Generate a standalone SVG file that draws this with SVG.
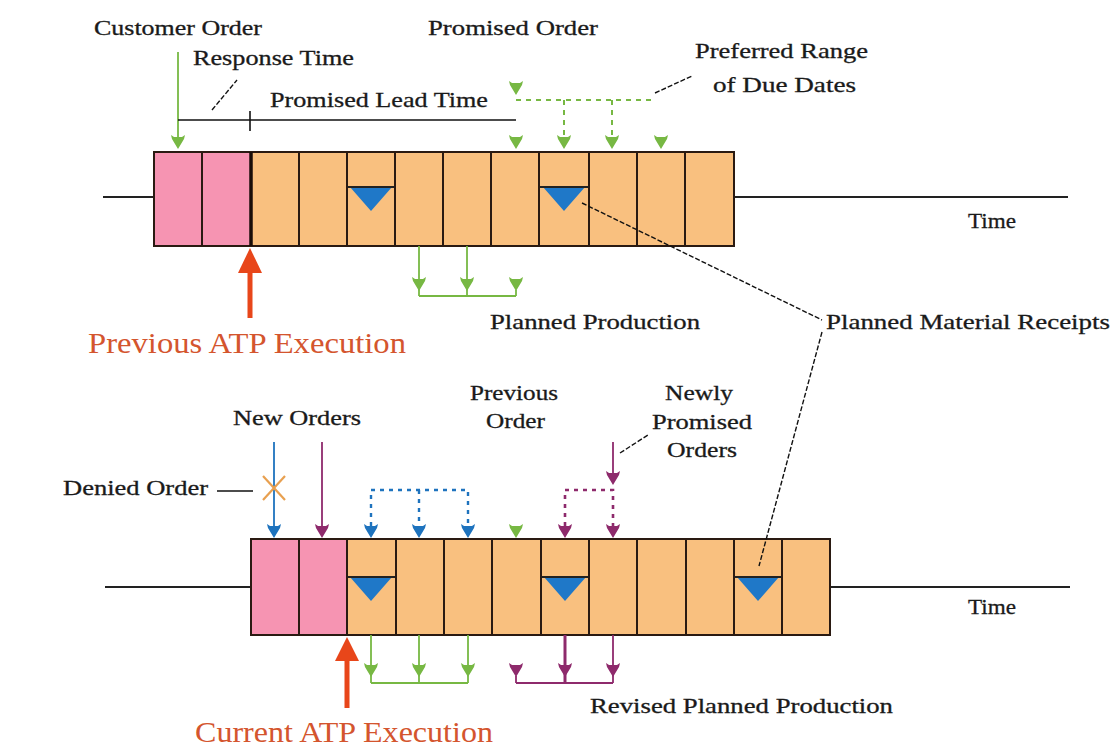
<svg xmlns="http://www.w3.org/2000/svg" xmlns:xlink="http://www.w3.org/1999/xlink" width="1120" height="752" viewBox="0 0 1120 752">
<defs>
<style>
text{font-family:"Liberation Serif","Times New Roman",serif;font-size:21px;fill:#1a1a1a;stroke:#1a1a1a;stroke-width:0.3}
.red{font-size:30px;fill:#d4552e;stroke:none}
.pink{fill:#f694b2}
.org{fill:#f9c07f}
.cell{stroke:#2a1a12;stroke-width:2;fill:none}
.axis{stroke:#222;stroke-width:2}
.tri{fill:#1f78c8}
.triTop{stroke:#222;stroke-width:2}
.blk{stroke:#111;stroke-width:1.6;fill:none}
.lead{stroke:#111;stroke-width:1.4;stroke-dasharray:5 2;fill:none}
.g{stroke:#77b843;stroke-width:1.8;fill:none}
.gd{stroke:#77b843;stroke-width:2;stroke-dasharray:5 5;fill:none}
.b{stroke:#1e73be;stroke-width:1.8;fill:none}
.bd{stroke:#1e73be;stroke-width:2.4;stroke-dasharray:4 5;fill:none}
.p{stroke:#8e2a6c;stroke-width:1.8;fill:none}
.pd{stroke:#8e2a6c;stroke-width:2.6;stroke-dasharray:4 5;fill:none}
.ra{fill:#e8461a}
</style>
<path id="ah" d="M-7,-14 L-4,-12 L4,-12 L7,-14 L6,-10 L0,0 L-6,-10 Z"/>
<path id="tri" d="M-21,0 L21,0 L0,24 Z"/>
</defs>
<rect width="1120" height="752" fill="#fff"/>

<g id="timeline-top">
<line class="axis" x1="103" y1="197" x2="154" y2="197"/>
<line class="axis" x1="734" y1="197" x2="1068" y2="197"/>
<rect class="pink" x="154" y="152" width="97" height="94"/>
<rect class="org" x="251" y="152" width="483" height="94"/>
<rect class="cell" x="154" y="152" width="580" height="94"/>
<g class="cell">
<line x1="202" y1="152" x2="202" y2="246"/>
<line x1="251" y1="152" x2="251" y2="246" style="stroke-width:3.5;stroke:#1a0d08"/>
<line x1="299" y1="152" x2="299" y2="246"/>
<line x1="347" y1="152" x2="347" y2="246"/>
<line x1="395" y1="152" x2="395" y2="246"/>
<line x1="443" y1="152" x2="443" y2="246"/>
<line x1="491" y1="152" x2="491" y2="246"/>
<line x1="539" y1="152" x2="539" y2="246"/>
<line x1="589" y1="152" x2="589" y2="246"/>
<line x1="637" y1="152" x2="637" y2="246"/>
<line x1="685" y1="152" x2="685" y2="246"/>
</g>
<use href="#tri" class="tri" x="371" y="187"/>
<line class="triTop" x1="348" y1="187" x2="394" y2="187"/>
<use href="#tri" class="tri" x="564" y="187"/>
<line class="triTop" x1="540" y1="187" x2="588" y2="187"/>
</g>

<g id="timeline-bottom">
<line class="axis" x1="105" y1="587" x2="251" y2="587"/>
<line class="axis" x1="830" y1="587" x2="1070" y2="587"/>
<rect class="pink" x="251" y="539" width="96" height="96"/>
<rect class="org" x="347" y="539" width="483" height="96"/>
<rect class="cell" x="251" y="539" width="579" height="96"/>
<g class="cell">
<line x1="299" y1="539" x2="299" y2="635"/>
<line x1="347" y1="539" x2="347" y2="635"/>
<line x1="396" y1="539" x2="396" y2="635"/>
<line x1="444" y1="539" x2="444" y2="635"/>
<line x1="492" y1="539" x2="492" y2="635"/>
<line x1="541" y1="539" x2="541" y2="635"/>
<line x1="589" y1="539" x2="589" y2="635"/>
<line x1="637" y1="539" x2="637" y2="635"/>
<line x1="686" y1="539" x2="686" y2="635"/>
<line x1="734" y1="539" x2="734" y2="635"/>
<line x1="782" y1="539" x2="782" y2="635"/>
</g>
<use href="#tri" class="tri" x="371" y="577"/>
<line class="triTop" x1="348" y1="577" x2="395" y2="577"/>
<use href="#tri" class="tri" x="565" y="577"/>
<line class="triTop" x1="542" y1="577" x2="588" y2="577"/>
<use href="#tri" class="tri" x="758" y="577"/>
<line class="triTop" x1="735" y1="577" x2="781" y2="577"/>
</g>

<g id="atp-previous">
<polygon class="ra" points="250,248 262,273 238,273"/>
<rect class="ra" x="247.5" y="272" width="5" height="46"/>
<text class="red" x="88" y="353" textLength="318" lengthAdjust="spacingAndGlyphs">Previous ATP Execution</text>
</g>
<g id="atp-current">
<polygon class="ra" points="347,637 359,661 335,661"/>
<rect class="ra" x="344.5" y="660" width="5" height="48"/>
<text class="red" x="195" y="742" textLength="298" lengthAdjust="spacingAndGlyphs">Current ATP Execution</text>
</g>

<g id="labels">
<text x="94" y="35" textLength="168" lengthAdjust="spacingAndGlyphs">Customer Order</text>
<text x="193" y="65" textLength="161" lengthAdjust="spacingAndGlyphs">Response Time</text>
<text x="270" y="107" textLength="218" lengthAdjust="spacingAndGlyphs">Promised Lead Time</text>
<text x="428" y="35" textLength="170" lengthAdjust="spacingAndGlyphs">Promised Order</text>
<text x="695" y="58" textLength="173" lengthAdjust="spacingAndGlyphs">Preferred Range</text>
<text x="713" y="92" textLength="143" lengthAdjust="spacingAndGlyphs">of Due Dates</text>
<text x="968" y="228" textLength="48" lengthAdjust="spacingAndGlyphs">Time</text>
<text x="490" y="329" textLength="210" lengthAdjust="spacingAndGlyphs">Planned Production</text>
<text x="826" y="329" textLength="284" lengthAdjust="spacingAndGlyphs">Planned Material Receipts</text>
<text x="233" y="425" textLength="128" lengthAdjust="spacingAndGlyphs">New Orders</text>
<text x="63" y="495" textLength="145" lengthAdjust="spacingAndGlyphs">Denied Order</text>
<text x="470" y="400" textLength="88" lengthAdjust="spacingAndGlyphs">Previous</text>
<text x="486" y="428" textLength="59" lengthAdjust="spacingAndGlyphs">Order</text>
<text x="665" y="400" textLength="68" lengthAdjust="spacingAndGlyphs">Newly</text>
<text x="652" y="429" textLength="100" lengthAdjust="spacingAndGlyphs">Promised</text>
<text x="667" y="457" textLength="70" lengthAdjust="spacingAndGlyphs">Orders</text>
<text x="968" y="614" textLength="48" lengthAdjust="spacingAndGlyphs">Time</text>
<text x="590" y="713" textLength="303" lengthAdjust="spacingAndGlyphs">Revised Planned Production</text>
</g>

<g id="connectors">
<line class="g" x1="178" y1="52" x2="178" y2="140"/>
<use href="#ah" x="178" y="149" fill="#77b843"/>
<line class="blk" x1="178" y1="120" x2="516" y2="120"/>
<line class="blk" x1="250" y1="111" x2="250" y2="131"/>
<line class="lead" x1="212" y1="110" x2="237" y2="80"/>
<use href="#ah" x="516" y="95" fill="#77b843"/>
<polyline class="gd" points="516,100 655,100"/>
<line class="gd" x1="564" y1="100" x2="564" y2="137"/>
<line class="gd" x1="612" y1="100" x2="612" y2="137"/>
<use href="#ah" x="516" y="149" fill="#77b843"/>
<use href="#ah" x="564" y="149" fill="#77b843"/>
<use href="#ah" x="612" y="149" fill="#77b843"/>
<use href="#ah" x="661" y="149" fill="#77b843"/>
<line class="lead" x1="655" y1="93" x2="692" y2="76"/>
<line class="g" x1="419" y1="246" x2="419" y2="296"/>
<line class="g" x1="467" y1="246" x2="467" y2="296"/>
<line class="g" x1="419" y1="296" x2="516" y2="296"/>
<line class="g" x1="516" y1="290" x2="516" y2="296"/>
<use href="#ah" x="419" y="291" fill="#77b843"/>
<use href="#ah" x="467" y="291" fill="#77b843"/>
<use href="#ah" x="516" y="291" fill="#77b843"/>
<line class="lead" x1="582" y1="203" x2="822" y2="320"/>
<line class="lead" x1="822" y1="332" x2="759" y2="566"/>
<line class="b" x1="274" y1="442" x2="274" y2="530"/>
<use href="#ah" x="274" y="538" fill="#1e73be"/>
<line class="p" x1="322" y1="442" x2="322" y2="530"/>
<use href="#ah" x="322" y="538" fill="#8e2a6c"/>
<line class="blk" x1="217" y1="491" x2="253" y2="491"/>
<g stroke="#e8a050" stroke-width="2.2">
<line x1="263" y1="476" x2="285" y2="500"/>
<line x1="285" y1="476" x2="263" y2="500"/>
</g>
<polyline class="bd" points="371,526 371,490 468,490 468,526"/>
<line class="bd" x1="419" y1="490" x2="419" y2="526"/>
<use href="#ah" x="371" y="538" fill="#1e73be"/>
<use href="#ah" x="419" y="538" fill="#1e73be"/>
<use href="#ah" x="468" y="538" fill="#1e73be"/>
<use href="#ah" x="516" y="538" fill="#77b843"/>
<line class="p" x1="613" y1="442" x2="613" y2="476"/>
<use href="#ah" x="613" y="485" fill="#8e2a6c"/>
<polyline class="pd" points="565,526 565,490 613,490 613,526"/>
<use href="#ah" x="565" y="538" fill="#8e2a6c"/>
<use href="#ah" x="613" y="538" fill="#8e2a6c"/>
<line class="lead" x1="620" y1="453" x2="648" y2="435"/>
<line class="g" x1="371" y1="635" x2="371" y2="683"/>
<line class="g" x1="419" y1="635" x2="419" y2="683"/>
<line class="g" x1="468" y1="635" x2="468" y2="683"/>
<line class="g" x1="371" y1="683" x2="468" y2="683"/>
<use href="#ah" x="371" y="677" fill="#77b843"/>
<use href="#ah" x="419" y="677" fill="#77b843"/>
<use href="#ah" x="468" y="677" fill="#77b843"/>
<line class="p" x1="565" y1="635" x2="565" y2="683" style="stroke-width:3"/>
<line class="p" x1="613" y1="635" x2="613" y2="683"/>
<line class="p" x1="516" y1="683" x2="613" y2="683"/>
<line class="p" x1="516" y1="676" x2="516" y2="683"/>
<use href="#ah" x="516" y="677" fill="#8e2a6c"/>
<use href="#ah" x="565" y="677" fill="#8e2a6c"/>
<use href="#ah" x="613" y="677" fill="#8e2a6c"/>
</g>
</svg>
